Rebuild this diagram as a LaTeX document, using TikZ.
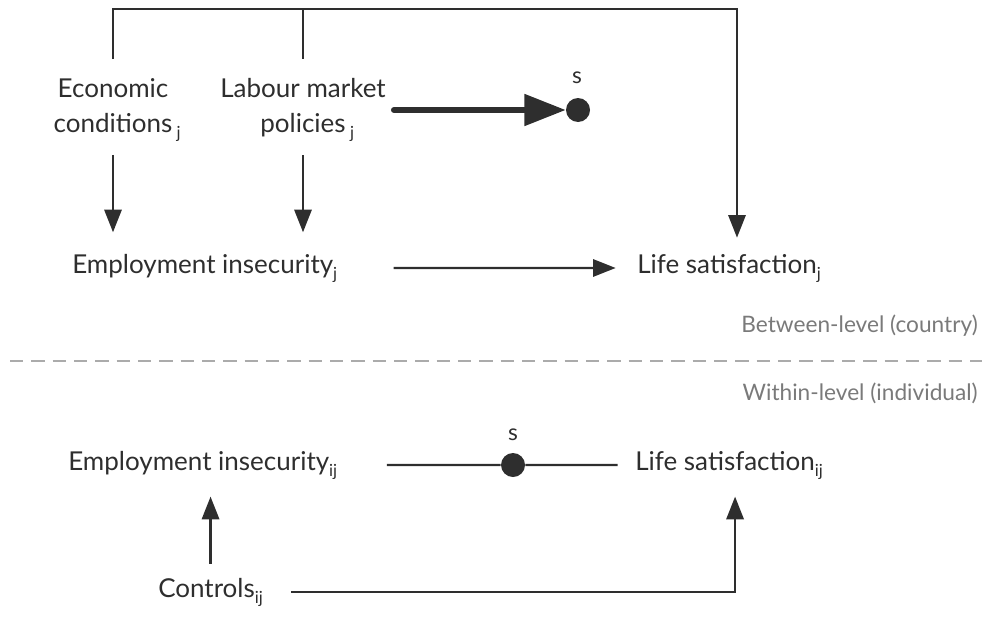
\documentclass[tikz,border=0pt]{standalone}
\usepackage{fontspec}
\setmainfont{Lato}
\usetikzlibrary{arrows.meta}
\definecolor{ink}{HTML}{2E2E2E}
\definecolor{lvlgray}{HTML}{7A7A7A}
\definecolor{dashgray}{HTML}{ABABAB}
\newcommand{\lsub}[1]{\raisebox{-4.5pt}{\fontsize{12.5}{12.5}\selectfont#1}}
\begin{document}
\begin{tikzpicture}[x=0.75pt,y=-0.75pt,
  var/.style={text=ink, font=\fontsize{19.5}{26}\selectfont, inner sep=0pt},
  lvl/.style={text=lvlgray, font=\fontsize{17}{20}\selectfont, inner sep=0pt, anchor=base east},
  link/.style={draw=ink, line width=1.6pt},
  arr/.style={link, -{Triangle[length=17pt,width=13pt]}},
  fat/.style={draw=ink, line width=4.5pt, line cap=round, -{Triangle[length=31pt,width=23pt]}},
  spot/.style={circle, fill=ink, minimum size=18pt, inner sep=0pt}]
\useasboundingbox (0,0) rectangle (987,617);
\node[var, align=center, inner ysep=10pt] (econ) at (113,110){Economic\\conditions\rlap{\,\lsub{j}}};
\node[var, align=center, inner ysep=10pt] (lmp) at (303,110){Labour market\\policies\rlap{\,\lsub{j}}};
\node[var, anchor=base west] (empj) at (72,273){Employment insecurity\lsub{j}};
\node[var, anchor=base west] (lifej) at (637,273){Life satisfaction\lsub{j}};
\node[spot] (dotj) at (578,110){};
\node[var, font=\fontsize{17}{18}\selectfont, anchor=base] (sj) at (577,84){s};
\coordinate (drop) at (737,9);
\draw[arr, shorten <=4.5pt, shorten >=12pt] (econ.north) |- (drop) -- (drop |- lifej.north);
\draw[link, shorten <=4.5pt] (lmp.north) -- (lmp.north |- drop);
\draw[arr, shorten >=16pt] (econ.south) -- (econ.south |- empj.north);
\draw[arr, shorten >=16pt] (lmp.south) -- (lmp.south |- empj.north);
\draw[fat, shorten <=6pt] (lmp.east) -- (dotj.west);
\draw[arr, shorten <=42pt, shorten >=16pt] (empj.east) -- (lifej.west);
\node[lvl] (between) at (978,332){Between-level (country)};
\draw[draw=dashgray, line width=2.2pt, dash pattern=on 10pt off 6pt] (10,361) -- (982,361);
\node[lvl] (within) at (978,400){Within-level (individual)};
\node[var, anchor=base west] (empij) at (68,470){Employment insecurity\lsub{ij}};
\node[var, anchor=base west] (lifeij) at (635,470){Life satisfaction\lsub{ij}};
\node[spot] (dotij) at (513,465){};
\node[var, font=\fontsize{17}{18}\selectfont, anchor=base] (sij) at (513,440){s};
\draw[link, shorten <=37pt] (empij.east) -- (dotij.west);
\draw[link, shorten >=13pt] (dotij.east) -- (lifeij.west);
\node[var, anchor=base west] (ctrl) at (158,597){Controls\lsub{ij}};
\draw[arr, shorten <=10.5pt, shorten >=13pt] (ctrl.north) -- (ctrl.north |- empij.south);
\draw[arr, shorten <=21pt, shorten >=13pt] (ctrl.east) -| ([xshift=4.5pt]lifeij.south);
\end{tikzpicture}
\end{document}
